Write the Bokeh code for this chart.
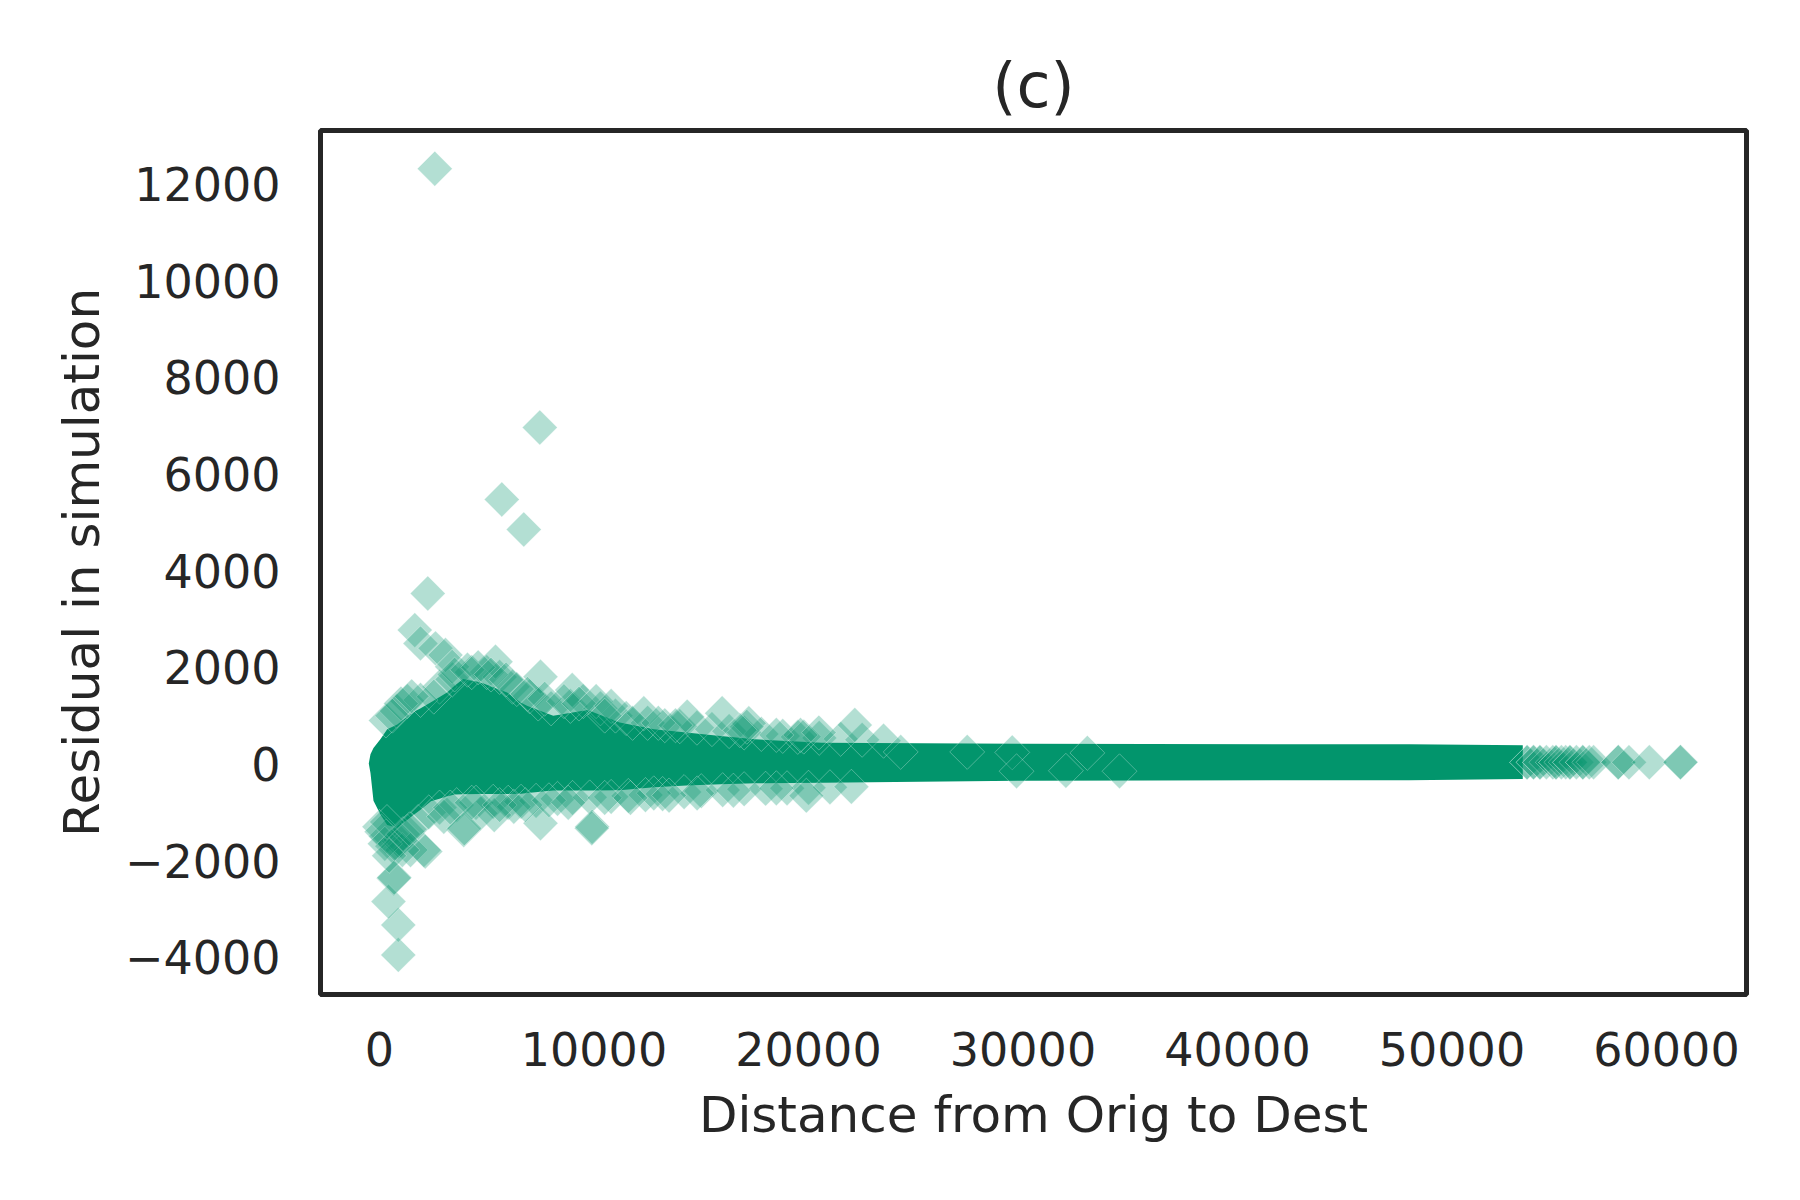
import numpy as np
from bokeh.plotting import figure
from bokeh.models import FixedTicker, Range1d
from bokeh.embed import file_html
from bokeh.resources import INLINE

GREEN = "#02956c"
INK = "#262626"
FONT = "DejaVu Sans"

# dense core of the cloud: visible upper and lower edge of the solid band
band_x = [-500, -420, -280, 50, 360, 830, 1600, 1900, 2400, 3150, 3500, 3900,
          4700, 5000, 5950, 6600, 6900, 8100, 9700, 11200, 12800, 14300, 15900,
          17500, 20600, 30000, 42000, 48000, 53300]
band_top = [10, 200, 330, 520, 720, 820, 1080, 1150, 1280, 1480, 1620, 1760,
            1690, 1640, 1480, 1270, 1200, 1000, 1120, 860, 720, 650, 580,
            510, 440, 420, 410, 410, 390]
band_bot = [10, -186, -760, -1050, -1260, -1320, -1050, -950, -770, -670, -630, -625,
            -620, -620, -620, -615, -600, -550, -550, -545, -480, -445, -420,
            -400, -390, -345, -335, -335, -310]

# diamonds forming the fuzzy rim of the band
rim_x = [300, 800, 1300, 2800, 3400, 4300, 5000, 5600, 6200, 7000, 7400, 8000,
         8900, 9500, 10300, 11000, 11500, 12500, 13300, 14000, 14800, 15500,
         16300, 17000, 17800, 18800, 19500, 20500, 21500, 22500, 23500,
         0, 300, 600, 900, 1300, 1800, 2300, 2800, 3600, 4500, 5300, 6000,
         6600, 7300, 8300, 9000, 9800, 10800, 11600, 12400, 13200, 14200,
         15000, 16000, 17000, 18000, 19000, 20000, 21000, 22000]
rim_y = [900, 1100, 1300, 1600, 1750, 1900, 1900, 1800, 1600, 1400, 1250, 1150,
         1200, 1300, 1150, 1000, 950, 850, 800, 780, 750, 720,
         680, 650, 620, 580, 560, 540, 520, 500, 480,
         -1300, -1500, -1700, -1600, -1400, -1200, -1000, -900, -850, -800, -780, -800,
         -780, -760, -720, -700, -690, -680, -660, -640, -620, -580,
         -560, -540, -520, -510, -500, -490, -480, -470]

# single diamonds standing out of the band
out_x = [2578, 7473, 5702, 6727, 2250, 1646, 1911, 2611, 3077, 3388, 5408,
         7506, 8983, 12322, 14345, 15975, 17218, 19781, 1911, 2533, 22160,
         19627, 20482, 17124, 1000, 1500, 600, 3500, 4100, 4600, 5200, 5900,
         6400, 6900, 7700, 8600, 9300, 10100, 10800, 10500, 11800, 13000,
         13800, 16800, 18500, 24300, 27400, 29500, 33000,
         3930, 2066, 667, 9915, 7506, 4709, 2999, 19900, 14810, 12788, 6261,
         979, 1445, 876, 876, 420, 690, 2135, 1063, 3953, 9897, 5347,
         100, 250, 450, 700, 1100, 1400, 350, 3300, 4300, 5600, 6800, 7900,
         8800, 10500, 11700, 13500, 16500, 18500, 29700, 32000, 34500]
out_y = [12320, 6964, 5475, 4854, 3530, 2771, 2496, 2393, 2254, 2012, 2116,
         1806, 1531, 1049, 978, 1049, 842, 565, 1324, 1392, 807,
         600, 650, 770, 1250, 1400, 1000, 1850, 1950, 2000, 1850, 1750,
         1550, 1450, 1350, 1300, 1250, 1300, 1200, 1000, 850, 850,
         800, 700, 600, 250, 250, 240, 230,
         -1365, -1779, -2364, -1297, -1226, -1020, -1090, -655, -606, -606, -883,
         -1572, -1779, -3950, -3330, -2848, -2351, -1813, -1779, -1330, -1330, -1055,
         -1400, -1650, -1900, -1650, -1450, -1350, -1200, -900, -800, -850, -850, -750,
         -800, -700, -700, -650, -550, -500, -150, -140, -150]

# far right end of the cloud, where single diamonds separate again
tail_x = [53500, 53500, 53800, 53800, 54100, 54100, 54400, 54700, 54850, 54850,
          55100, 55300, 55500, 55500, 55800, 56100, 56100, 56400, 56600,
          57750, 57750, 58250, 59200, 60650, 60650]
tail_y = [35, 35, 35, 35, 35, 35, 35, 35, 35, 35,
          35, 35, 35, 35, 35, 35, 35, 35, 35,
          35, 35, 35, 35, 35, 35]

x_ticks = [0, 10000, 20000, 30000, 40000, 50000, 60000]
x_tick_labels = ["0", "10000", "20000", "30000", "40000", "50000", "60000"]
y_ticks = [-4000, -2000, 0, 2000, 4000, 6000, 8000, 10000, 12000]
y_tick_labels = ["\u22124000", "\u22122000", "0", "2000", "4000", "6000",
                 "8000", "10000", "12000"]

p = figure(frame_width=1426, frame_height=864,
           x_range=Range1d(-2750, 63730), y_range=Range1d(-4770, 13110),
           title="(c)", output_backend="svg", toolbar_location=None,
           min_border_left=320, min_border_right=46,
           min_border_top=130, min_border_bottom=190)

p.background_fill_color = "white"
p.border_fill_color = "white"
p.outline_line_color = INK
p.outline_line_width = 5
p.grid.grid_line_color = None

p.title.text_font = FONT
p.title.text_font_size = "62px"
p.title.text_font_style = "normal"
p.title.text_color = INK
p.title.align = "center"
p.title.standoff = 18

p.xaxis.axis_label = "Distance from Orig to Dest"
p.yaxis.axis_label = "Residual in simulation"
p.xaxis.ticker = FixedTicker(ticks=x_ticks)
p.yaxis.ticker = FixedTicker(ticks=y_ticks)
p.xaxis.major_label_overrides = dict(zip(x_ticks, x_tick_labels))
p.yaxis.major_label_overrides = dict(zip(y_ticks, y_tick_labels))

for ax in (p.xaxis, p.yaxis):
    ax.axis_line_color = None
    ax.major_tick_line_color = None
    ax.minor_tick_line_color = None
    ax.major_tick_out = 0
    ax.major_tick_in = 0
    ax.major_label_text_font = FONT
    ax.major_label_text_font_size = "46px"
    ax.major_label_text_color = INK
    ax.axis_label_text_font = FONT
    ax.axis_label_text_font_size = "50px"
    ax.axis_label_text_font_style = "normal"
    ax.axis_label_text_color = INK

p.xaxis.major_label_standoff = 37
p.xaxis.axis_label_standoff = 17
p.yaxis.major_label_standoff = 40
p.yaxis.axis_label_standoff = 11

p.varea(x=band_x, y1=band_bot, y2=band_top, fill_color=GREEN, fill_alpha=1.0)

for xs, ys in ((rim_x, rim_y), (out_x, out_y), (tail_x, tail_y)):
    p.scatter(xs, ys, marker="square", angle=np.pi / 4, size=24.7,
              fill_color=GREEN, fill_alpha=0.3, line_color="white",
              line_alpha=0.3, line_width=1)

open("out.html", "w").write(file_html(p, INLINE))
